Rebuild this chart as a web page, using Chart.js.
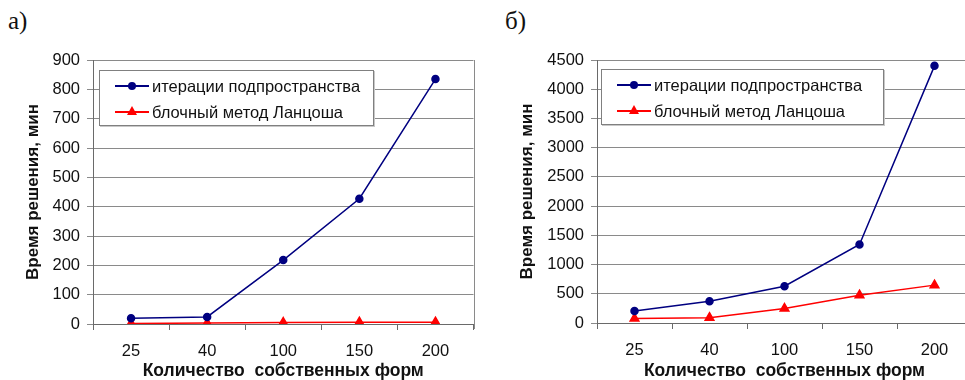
<!DOCTYPE html>
<html>
<head>
<meta charset="utf-8">
<script src="https://cdn.jsdelivr.net/npm/chart.js@4/dist/chart.umd.min.js"></script>
<style>
  html, body { margin: 0; padding: 0; background: #fff; overflow: hidden; }
  body { width: 965px; height: 380px; position: relative; }
  .panel { position: absolute; top: 0; height: 380px; }
  .tag { position: absolute; top: 7px; font-family: "Liberation Serif", "DejaVu Serif", serif; font-size: 25px; color: #111; }
  .legend {
    position: absolute; background: #fff; border: 1px solid #808080;
    box-shadow: 1px 1px 0 #c8c8c8;
    font-family: "Liberation Sans", Arial, sans-serif; font-size: 16.5px; color: #111;
  }
  .row { position: absolute; left: 0; height: 20px; line-height: 20px; white-space: nowrap; }
  .sample { position: absolute; left: 15px; top: 9px; width: 34px; height: 2px; }
  .dot { position: absolute; left: 13px; top: -3px; width: 8px; height: 8px; border-radius: 50%; }
  .tri { position: absolute; left: 12px; top: -5px; width: 0; height: 0;
         border-left: 5px solid transparent; border-right: 5px solid transparent; border-bottom: 9px solid #ff0000; }
  .label { position: absolute; left: 52px; top: 0; }
</style>
</head>
<body>

<div class="tag" style="left:8px">а)</div>
<div class="tag" style="left:505px">б)</div>

<div class="panel" style="left:0; width:480px"><canvas id="chartA"></canvas></div>
<div class="panel" style="left:480px; width:500px"><canvas id="chartB"></canvas></div>

<div class="legend" style="left:99px; top:70px; width:273px; height:54px">
  <div class="row" style="top:5px"><span class="sample" style="background:#000080"><span class="dot" style="background:#000080"></span></span><span class="label">итерации подпространства</span></div>
  <div class="row" style="top:31px"><span class="sample" style="background:#ff0000"><span class="tri"></span></span><span class="label">блочный метод Ланцоша</span></div>
</div>
<div class="legend" style="left:601px; top:69px; width:281px; height:54px">
  <div class="row" style="top:5px"><span class="sample" style="background:#000080"><span class="dot" style="background:#000080"></span></span><span class="label">итерации подпространства</span></div>
  <div class="row" style="top:31px"><span class="sample" style="background:#ff0000"><span class="tri"></span></span><span class="label">блочный метод Ланцоша</span></div>
</div>

<script>
// categories (number of eigenforms)
var forms = ['25', '40', '100', '150', '200'];

// chart a) solution time, min
var subspaceA = [20, 24, 218, 427, 835];
var lanczosA = [2, 3, 5, 6, 6];

// chart б) solution time, min
var subspaceB = [205, 372, 629, 1343, 4400];
var lanczosB = [75, 90, 247, 475, 648];

var seriesNames = ['итерации подпространства', 'блочный метод Ланцоша'];
var xTitle = 'Количество  собственных форм';
var yTitle = 'Время решения, мин';

var fontFamily = '"Liberation Sans", Arial, sans-serif';

// draws the right-hand border of the plot area
var frameRight = {
  id: 'frameRight',
  afterDraw: function(chart) {
    var a = chart.chartArea;
    var ctx = chart.ctx;
    ctx.save();
    ctx.strokeStyle = '#8a8a8a';
    ctx.lineWidth = 1;
    ctx.beginPath();
    ctx.moveTo(Math.round(a.right) + 0.5, a.top);
    ctx.lineTo(Math.round(a.right) + 0.5, a.bottom + 5);
    ctx.stroke();
    ctx.restore();
  }
};

function makeChart(id, w, subspace, lanczos, yMax, yStep, yWidth, yTitlePad, rightPad, bottom) {
  var canvas = document.getElementById(id);
  canvas.width = w;
  canvas.height = 380;
  var ctx = canvas.getContext('2d');
  return new Chart(ctx, {
    type: 'line',
    data: {
      labels: forms,
      datasets: [{
        label: seriesNames[0],
        data: subspace,
        borderColor: '#000080',
        backgroundColor: '#000080',
        borderWidth: 1.5,
        pointStyle: 'circle',
        pointRadius: 3.5,
        tension: 0
      }, {
        label: seriesNames[1],
        data: lanczos,
        borderColor: '#ff0000',
        backgroundColor: '#ff0000',
        borderWidth: 1.5,
        pointStyle: 'triangle',
        pointRadius: 5,
        tension: 0
      }]
    },
    options: {
      responsive: false,
      animation: false,
      events: [],
      layout: { padding: { top: 60, left: 0, right: rightPad, bottom: 0 } },
      plugins: {
        legend: { display: false },
        tooltip: { enabled: false }
      },
      scales: {
        x: {
          offset: true,
          grid: { offset: true, drawOnChartArea: false, drawTicks: true, tickLength: 6, color: '#6a6a6a' },
          border: { display: true, color: '#6a6a6a', width: 1 },
          ticks: { color: '#111', padding: 12, maxRotation: 0, font: { family: fontFamily, size: 16.5 } },
          title: { display: true, text: xTitle, color: '#111', padding: { top: 0, bottom: -2 },
                   font: { family: fontFamily, size: 17.5, weight: 'bold' } },
          afterFit: function(s) { s.height = 380 - bottom; }
        },
        y: {
          min: 0,
          max: yMax,
          grid: { color: '#8a8a8a', tickLength: 6, drawTicks: true },
          border: { display: true, color: '#6a6a6a', width: 1 },
          ticks: { stepSize: yStep, color: '#111', padding: 7, font: { family: fontFamily, size: 16.5 },
                   callback: function(v) { return String(v); } },
          title: { display: true, text: yTitle, color: '#111', padding: { top: yTitlePad, bottom: 0 },
                   font: { family: fontFamily, size: 17, weight: 'bold' } },
          afterFit: function(s) { s.width = yWidth; }
        }
      }
    },
    plugins: [frameRight]
  });
}

makeChart('chartA', 480, subspaceA, lanczosA, 900, 100, 93, 23, 4, 324);
makeChart('chartB', 500, subspaceB, lanczosB, 4500, 500, 117, 37, 8, 323);
</script>
</body>
</html>
